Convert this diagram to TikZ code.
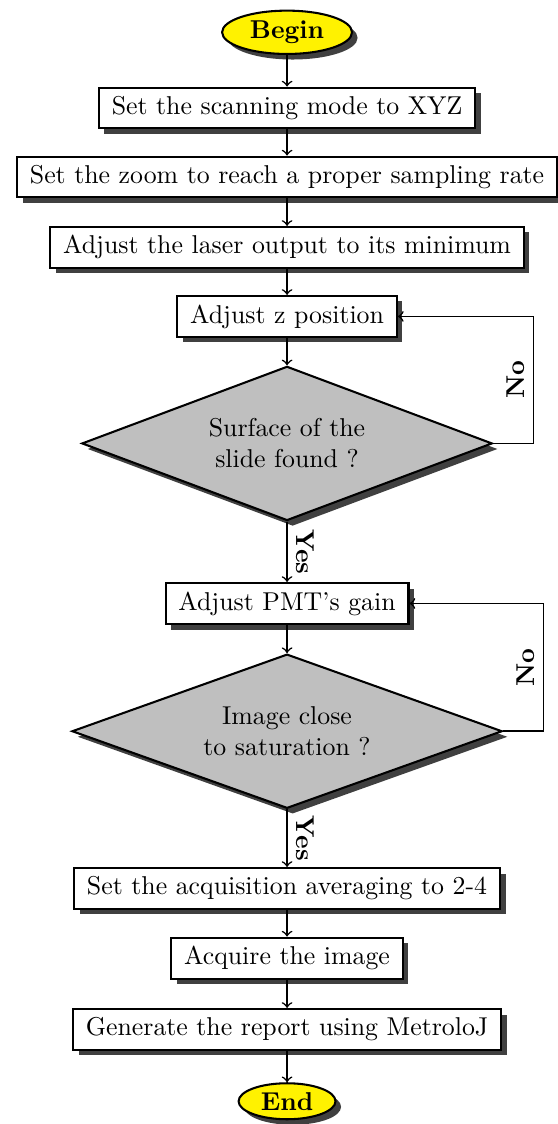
\documentclass[tikz,border=0pt]{standalone}
\usetikzlibrary{shapes.geometric,shadows}

\tikzstyle{startstop} = [ellipse,draw,thick,fill=yellow,font=\bfseries,inner sep=0pt,drop shadow={fill=black!75,opacity=1}]
\tikzstyle{process} = [rectangle,draw,thick,fill=white,minimum height=0.5cm,inner xsep=5pt,drop shadow={fill=black!75,opacity=1}]
\tikzstyle{decision} = [diamond,draw,thick,fill=gray!50,align=center,aspect=2.66,inner sep=0pt,minimum height=2.1cm,drop shadow={fill=black!75,opacity=1}]
\tikzstyle{arrowdecorate}=[->,semithick]
\tikzstyle{answer} = [font=\bfseries]

\begin{document}
\begin{tikzpicture}
      \useasboundingbox (-3.91,0) rectangle (3.69,-15.31);
      %nodes
      \node[startstop, minimum width=1.77cm, minimum height=0.59cm] (begin) at (0,-0.44) {Begin};
      \foreach \nodename/\y/\text in {
        b1/-1.47/Set the scanning mode to XYZ,
        b2/-2.41/Set the zoom to reach a proper sampling rate,
        b3/-3.37/Adjust the laser output to its minimum,
        b4/-4.31/Adjust z position,
        b5/-8.22/Adjust PMT's gain,
        b6/-12.10/Set the acquisition averaging to 2-4,
        b7/-13.05/Acquire the image,
        b8/-14.02/Generate the report using MetroloJ}
      {
        \node[process] (\nodename) at (0,\y) {\text};
      };
      \node[decision, minimum width=5.59cm] (d1) at (0,-6.04) {Surface of the\\slide found ?};
      \node[decision, minimum width=5.86cm] (d2) at (0,-9.96) {Image close\\to saturation ?};
      \node[startstop, minimum width=1.32cm, minimum height=0.49cm] (end) at (0,-15.0) {End};

      %edges
      \foreach \startnode/\endnode in {begin/b1, b1/b2, b2/b3, b3/b4, b4/d1, b5/d2, b6/b7, b7/b8, b8/end}
      {
        \draw[arrowdecorate] (\startnode) -- (\endnode);
      };
      \draw[arrowdecorate] (d1) -- node[answer, rotate=-90, above] {Yes} (b5);
      \draw[arrowdecorate] (d2) -- node[answer, rotate=-90, above] {Yes} (b6);
      \draw[arrowdecorate] (d1.east) -- ++(0.55,0) |- node[answer, pos=0.25, rotate=90, above] {No} (b4.east);
      \draw[arrowdecorate] (d2.east) -- ++(0.55,0) |- node[answer, pos=0.25, rotate=90, above] {No} (b5.east);
\end{tikzpicture}
\end{document}
